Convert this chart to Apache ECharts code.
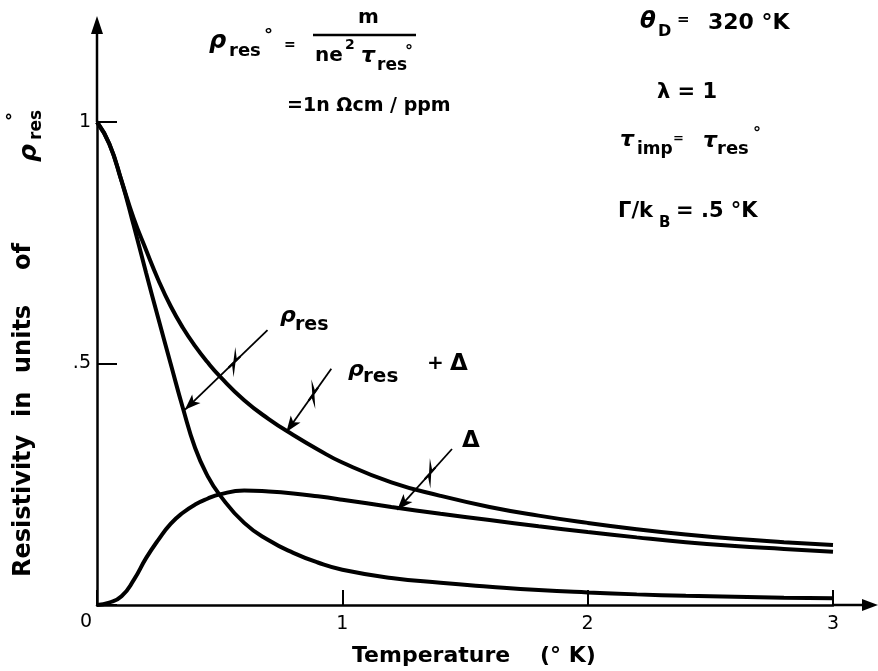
<!DOCTYPE html>
<html>
<head>
<meta charset="utf-8">
<script src="https://cdn.jsdelivr.net/npm/echarts@6/dist/echarts.min.js"></script>
<style>
  html, body { margin: 0; background: #fff; }
  #main { width: 878px; height: 671px; }
</style>
</head>
<body>
<div id="main"></div>
<script>
// temperature (°K) and resistivity in units of rho_res°
const temps = [0, 0.05, 0.1, 0.15, 0.2, 0.25, 0.3, 0.35, 0.4, 0.45, 0.5, 0.6, 0.7, 0.8, 0.9, 1.0, 1.2, 1.4, 1.6, 1.8, 2.0, 2.2, 2.4, 2.6, 2.8, 3.0];
const rhoRes = [1.0, 0.955, 0.878, 0.785, 0.688, 0.593, 0.5, 0.408, 0.325, 0.268, 0.228, 0.17, 0.134, 0.108, 0.088, 0.073, 0.056, 0.046, 0.038, 0.031, 0.026, 0.022, 0.019, 0.017, 0.015, 0.014];
const rhoResPlusDelta = [1.0, 0.955, 0.878, 0.8, 0.735, 0.673, 0.619, 0.574, 0.536, 0.503, 0.474, 0.424, 0.385, 0.352, 0.322, 0.295, 0.254, 0.226, 0.203, 0.185, 0.17, 0.157, 0.146, 0.137, 0.13, 0.124];
const delta = [0, 0.005, 0.018, 0.052, 0.097, 0.135, 0.168, 0.191, 0.208, 0.22, 0.229, 0.237, 0.235, 0.231, 0.225, 0.218, 0.203, 0.189, 0.176, 0.163, 0.151, 0.14, 0.13, 0.122, 0.116, 0.11];

const xTickValues = [1, 2, 3];
const yTickValues = [0.5, 1];
const yTickText = ['.5', '1'];

// pointer arrows: [from, to] in data coords
const arrowRho = [[0.695, 0.569], [0.358, 0.404]];
const arrowSum = [[0.955, 0.489], [0.772, 0.358]];
const arrowDelta = [[1.447, 0.323], [1.224, 0.197]];

const FONT = '"DejaVu Sans", "Liberation Sans", sans-serif';

function txt(x, y, s, size, italic, weight) {
  return {
    type: 'text', x: x, y: y, silent: true,
    style: {
      text: s,
      font: (italic ? 'italic ' : '') + (weight || 'bold') + ' ' + size + 'px ' + FONT,
      fill: '#000',
      align: 'left', verticalAlign: 'middle',
      textAlign: 'left', textVerticalAlign: 'middle'
    }
  };
}

function pair(p) {
  return [{ coord: p[0] }, { coord: p[1] }];
}

function lineSeries(name, values, arrow) {
  return {
    name: name,
    type: 'line',
    data: temps.map((t, i) => [t, values[i]]),
    smooth: true,
    showSymbol: false,
    lineStyle: { color: '#000', width: 4 },
    silent: true,
    markLine: {
      silent: true,
      symbol: ['none', 'arrow'],
      symbolSize: [9, 16],
      label: { show: false },
      lineStyle: { color: '#000', width: 1.8, type: 'solid' },
      data: [pair(arrow)]
    }
  };
}

const chart = echarts.init(document.getElementById('main'));

const option = {
  backgroundColor: '#fff',
  animation: false,
  grid: { left: 97, right: 45, top: 122, bottom: 66 },
  xAxis: {
    type: 'value',
    min: 0, max: 3, interval: 1,
    axisLine: { lineStyle: { color: '#000', width: 2.5 } },
    axisTick: { inside: true, length: 15, lineStyle: { color: '#000', width: 2 } },
    axisLabel: {
      color: '#000', fontSize: 19, fontFamily: FONT, margin: 10,
      formatter: v => xTickValues.indexOf(v) >= 0 ? String(v) : ''
    },
    splitLine: { show: false }
  },
  yAxis: {
    type: 'value',
    min: 0, max: 1, interval: 0.5,
    axisLine: { lineStyle: { color: '#000', width: 2.5 } },
    axisTick: { inside: true, length: 20, lineStyle: { color: '#000', width: 2 } },
    axisLabel: {
      color: '#000', fontSize: 19, fontFamily: FONT, margin: 6,
      formatter: v => {
        const i = yTickValues.indexOf(v);
        return i >= 0 ? yTickText[i] : '';
      }
    },
    splitLine: { show: false }
  },
  series: [
    lineSeries('rho_res', rhoRes, arrowRho),
    lineSeries('rho_res + delta', rhoResPlusDelta, arrowSum),
    lineSeries('delta', delta, arrowDelta)
  ]
};

chart.setOption(option);

// axis extensions with arrow heads, plus all the lettering
const o = chart.convertToPixel({ gridIndex: 0 }, [0, 0]);
const xe = chart.convertToPixel({ gridIndex: 0 }, [3, 0]);
const ye = chart.convertToPixel({ gridIndex: 0 }, [0, 1]);

// little zigzag break drawn on each pointer shaft
function zigzag(arrow) {
  const a = chart.convertToPixel({ gridIndex: 0 }, arrow[0]);
  const b = chart.convertToPixel({ gridIndex: 0 }, arrow[1]);
  const len = Math.hypot(b[0] - a[0], b[1] - a[1]);
  const d = [(b[0] - a[0]) / len, (b[1] - a[1]) / len];
  const n = [-d[1], d[0]];
  const m = [a[0] + (b[0] - a[0]) * 0.4, a[1] + (b[1] - a[1]) * 0.4];
  const p = (s, t) => [m[0] + d[0] * s + n[0] * t, m[1] + d[1] * s + n[1] * t];
  return {
    type: 'polyline', silent: true,
    shape: { points: [p(-8, 0), p(-2, 0), p(-5, 4), p(5, -4), p(2, 0), p(8, 0)] },
    style: { stroke: '#000', fill: null, lineWidth: 2.2 }
  };
}

const graphics = [
  { type: 'line', silent: true, shape: { x1: xe[0], y1: o[1], x2: 866, y2: o[1] }, style: { stroke: '#000', lineWidth: 2.5 } },
  { type: 'polygon', silent: true, shape: { points: [[878, o[1]], [862, o[1] - 6], [862, o[1] + 6]] }, style: { fill: '#000' } },
  { type: 'line', silent: true, shape: { x1: o[0], y1: ye[1], x2: o[0], y2: 30 }, style: { stroke: '#000', lineWidth: 2.5 } },
  { type: 'polygon', silent: true, shape: { points: [[o[0], 16], [o[0] - 6, 34], [o[0] + 6, 34]] }, style: { fill: '#000' } },

  zigzag(arrowRho), zigzag(arrowSum), zigzag(arrowDelta),

  // origin label
  txt(80, 622, '0', 19, false, 'normal'),

  // x axis title
  txt(352, 656, 'Temperature', 22),
  txt(540, 656, '(° K)', 22),

  // y axis title, rotated
  {
    type: 'group', x: 24, y: 577, rotation: Math.PI / 2, silent: true,
    children: [
      txt(0, 0, 'Resistivity', 24),
      txt(160, 0, 'in', 24),
      txt(204, 0, 'units', 24),
      txt(307, 0, 'of', 24),
      txt(415, 5, 'ρ', 25, true),
      txt(437, 13, 'res', 17),
      txt(456, -10, '°', 18)
    ]
  },

  // rho_res° = m / (n e^2 tau_res°)
  txt(209, 42, 'ρ', 24, true),
  txt(229, 51, 'res', 18),
  txt(264, 36, '°', 18),
  txt(284, 45, '=', 14),
  txt(358, 18, 'm', 20),
  { type: 'line', silent: true, shape: { x1: 313, y1: 35, x2: 416, y2: 35 }, style: { stroke: '#000', lineWidth: 2.5 } },
  txt(315, 56, 'ne', 20),
  txt(345, 45, '2', 14),
  txt(361, 56, 'τ', 22, true),
  txt(377, 66, 'res', 17),
  txt(405, 52, '°', 16),
  txt(287, 106, '=1n Ωcm / ppm', 19),

  // parameters
  txt(640, 22, 'θ', 23, true),
  txt(658, 32, 'D', 16),
  txt(677, 20, '=', 15),
  txt(708, 23, '320 °K', 22),
  txt(657, 93, 'λ = 1', 21),
  txt(620, 140, 'τ', 22, true),
  txt(637, 150, 'imp', 17),
  txt(673, 139, '=', 13),
  txt(703, 141, 'τ', 22, true),
  txt(717, 149, 'res', 18),
  txt(753, 134, '°', 16),
  txt(618, 212, 'Γ/k', 21),
  txt(659, 223, 'B', 15),
  txt(676, 212, '= .5 °K', 21),

  // curve labels
  txt(280, 316, 'ρ', 22, true),
  txt(295, 325, 'res', 19),
  txt(348, 370, 'ρ', 22, true),
  txt(363, 377, 'res', 20),
  txt(427, 364, '+', 20),
  txt(450, 364, 'Δ', 23),
  txt(462, 441, 'Δ', 23)
];

chart.setOption({ graphic: graphics });
</script>
</body>
</html>
